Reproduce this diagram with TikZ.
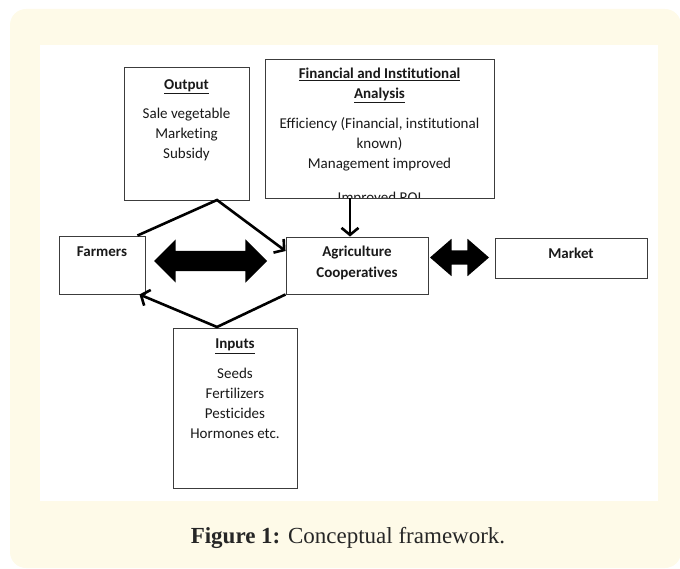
\documentclass[tikz,border=0pt]{standalone}
\usepackage{fontspec}
\setmainfont{Carlito}[Ligatures={NoCommon}]
\newfontfamily\capfont{Liberation Serif}
\usepackage{tikz}
\usetikzlibrary{positioning,arrows.meta,shapes.arrows}

\definecolor{cream}{RGB}{254,250,232}
\definecolor{boxgray}{RGB}{60,60,60}
\definecolor{inkgray}{RGB}{25,25,25}

\tikzset{
  framebox/.style={draw=boxgray, line width=0.9pt, fill=white, inner sep=0pt},
  boxtext/.style={align=center, inner sep=0pt, text=inkgray, font=\fontsize{15}{20}\selectfont},
  link/.style={line width=2.6pt},
  tip/.style={-{Straight Barb[length=7pt,width=17pt]}},
  fatarrow/.style={double arrow, fill=black, draw=none, inner xsep=0pt, double arrow head extend=11.5pt}
}

\begin{document}
\begin{tikzpicture}[x=1pt,y=-1pt]
  \useasboundingbox (0,0) rectangle (680,569);
  \fill[cream, rounded corners=16pt] (10,9) rectangle (681,568);
  \fill[white] (40,45) rectangle (658,501);

  % boxes
  \node[framebox, minimum width=125pt, minimum height=133pt] (output) at (186.5,133.5) {};
  \node[framebox, minimum width=229pt, minimum height=139pt] (fin) at (379.5,128.5) {};
  \node[framebox, minimum width=86pt, minimum height=58pt] (farmers) at (102,265) {};
  \node[framebox, minimum width=142pt, minimum height=57pt] (agri) at (357,265.5) {};
  \node[framebox, minimum width=152pt, minimum height=40pt] (market) at (571,258) {};
  \node[framebox, minimum width=124pt, minimum height=160pt] (inputs) at (235,408) {};

  % texts
  \node[boxtext, below=12.5pt of output.north] (outputtext)
    {\underline{\textbf{Output}}\\[9pt]Sale vegetable\\Marketing\\Subsidy};
  \begin{scope}
    \clip ([yshift=1pt]fin.south west) rectangle (fin.north east);
    \node[boxtext, below=9.5pt of fin.north] (fintext)
      {\underline{\textbf{Financial and Institutional}}\\\underline{\textbf{Analysis}}\\[10pt]
       Efficiency (Financial, institutional\\known)\\Management improved\\[13.5pt]Improved ROI};
  \end{scope}
  \node[boxtext, below=11.5pt of farmers.north] (farmerstext) {\textbf{Farmers}};
  \node[boxtext, below=9pt of agri.north, font=\fontsize{15}{21}\selectfont] (agritext)
    {\textbf{Agriculture}\\\textbf{Cooperatives}};
  \node[boxtext, below=10.5pt of market.north] (markettext) {\textbf{Market}};
  \node[boxtext, below=11.5pt of inputs.north] (inputstext)
    {\underline{\textbf{Inputs}}\\[10pt]Seeds\\Fertilizers\\Pesticides\\Hormones etc.};

  % exchange arrows
  \node[fatarrow, inner ysep=10pt, minimum height=113pt, double arrow tip angle=90] (bigarrow) at (210.5,261) {};
  \node[fatarrow, inner ysep=7pt, minimum height=59pt, double arrow tip angle=82] (smallarrow) at (459.5,257.5) {};

  % flows
  \coordinate (outtip) at (217,200);
  \coordinate (intip) at (217,327);
  \coordinate (finfoot) at (350,198);
  \draw[link,tip] ([xshift=-8pt]farmers.north east) -- (outtip) -- ([yshift=14.5pt]agri.west);
  \draw[link,tip] (agri.south west) -- (intip) -- ([xshift=-6pt]farmers.south east);
  \draw[link,tip] (finfoot) -- (finfoot |- agri.north);

  \node[font=\capfont\fontsize{23}{27}\selectfont, text=black!85] (caption) at (348,538)
    {\textbf{Figure 1:} Conceptual framework.};
\end{tikzpicture}
\end{document}
